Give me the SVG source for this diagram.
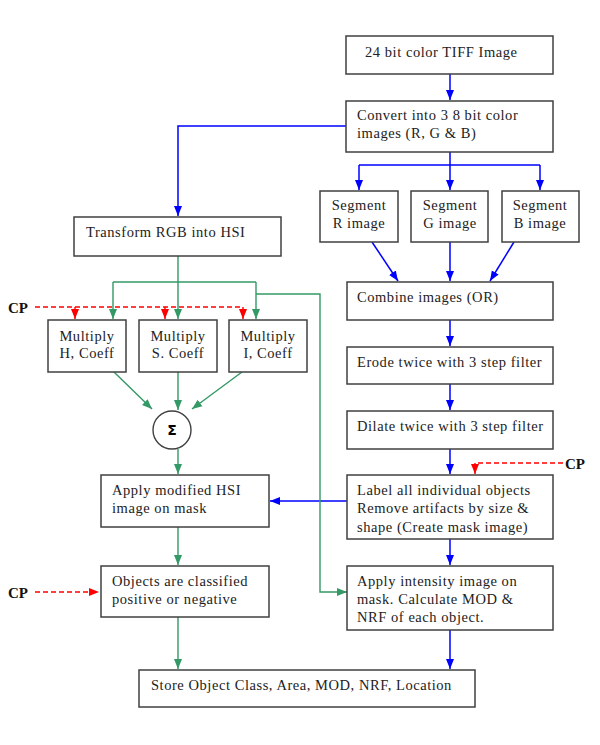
<svg xmlns="http://www.w3.org/2000/svg" width="600" height="745" viewBox="0 0 600 745">
<defs>
<style>
.box{fill:#fff;stroke:#404040;stroke-width:1.5}
.t{font-family:"Liberation Serif","Times New Roman",serif;font-size:14.5px;letter-spacing:0.55px;fill:#222}
.tc{font-family:"Liberation Serif","Times New Roman",serif;font-size:14.5px;letter-spacing:0.55px;fill:#222;text-anchor:middle}
.cp{font-family:"Liberation Serif","Times New Roman",serif;font-size:15px;font-weight:bold;fill:#111}
.b{fill:none;stroke:#0000ff;stroke-width:1.5}
.g{fill:none;stroke:#339966;stroke-width:1.4}
.r{fill:none;stroke:#ff0000;stroke-width:1.4;stroke-dasharray:5,3}
</style>
<marker id="ab" markerUnits="userSpaceOnUse" markerWidth="10" markerHeight="10" viewBox="0 0 10 10" refX="10" refY="5" orient="auto"><path d="M0,1 L10,5 L0,9 Z" fill="#0000ff"/></marker>
<marker id="ag" markerUnits="userSpaceOnUse" markerWidth="10" markerHeight="10" viewBox="0 0 10 10" refX="10" refY="5" orient="auto"><path d="M0,1 L10,5 L0,9 Z" fill="#339966"/></marker>
<marker id="ar" markerUnits="userSpaceOnUse" markerWidth="10" markerHeight="10" viewBox="0 0 10 10" refX="10" refY="5" orient="auto"><path d="M0,1 L10,5 L0,9 Z" fill="#ff0000"/></marker>
</defs>
<rect width="600" height="745" fill="#fff"/>
<g id="connectors">
<path class="b" d="M450 74 V100" marker-end="url(#ab)"/>
<path class="b" d="M450 152 V190" marker-end="url(#ab)"/>
<path class="b" d="M359 165 H540"/>
<path class="b" d="M359 165 V190" marker-end="url(#ab)"/>
<path class="b" d="M540 165 V190" marker-end="url(#ab)"/>
<path class="b" d="M346 126 H178 V216" marker-end="url(#ab)"/>
<path class="b" d="M372 242 L398 281" marker-end="url(#ab)"/>
<path class="b" d="M450 242 V281" marker-end="url(#ab)"/>
<path class="b" d="M514 242 L490 281" marker-end="url(#ab)"/>
<path class="b" d="M450 320 V346" marker-end="url(#ab)"/>
<path class="b" d="M450 384 V410" marker-end="url(#ab)"/>
<path class="b" d="M450 449 V474" marker-end="url(#ab)"/>
<path class="b" d="M347 501 H270" marker-end="url(#ab)"/>
<path class="b" d="M450 539 V565" marker-end="url(#ab)"/>
<path class="b" d="M450 630 V669" marker-end="url(#ab)"/>
<path class="g" d="M178 256 V319" marker-end="url(#ag)"/>
<path class="g" d="M113 282 H256"/>
<path class="g" d="M113 282 V319" marker-end="url(#ag)"/>
<path class="g" d="M256 282 V319" marker-end="url(#ag)"/>
<path class="g" d="M256 294 H320 V592 H347" marker-end="url(#ag)"/>
<path class="g" d="M114 372 L152 409" marker-end="url(#ag)"/>
<path class="g" d="M178 372 V410" marker-end="url(#ag)"/>
<path class="g" d="M242 372 L192 409" marker-end="url(#ag)"/>
<path class="g" d="M178 449 V474" marker-end="url(#ag)"/>
<path class="g" d="M178 527 V565" marker-end="url(#ag)"/>
<path class="g" d="M178 617 V669" marker-end="url(#ag)"/>
<path class="r" d="M35 307 H243"/>
<path class="r" d="M75 307 V319" stroke-dasharray="none" marker-end="url(#ar)"/>
<path class="r" d="M165 307 V319" stroke-dasharray="none" marker-end="url(#ar)"/>
<path class="r" d="M243 307 V319" stroke-dasharray="none" marker-end="url(#ar)"/>
<path class="r" d="M563 463 H475"/>
<path class="r" d="M475 463 V474" stroke-dasharray="none" marker-end="url(#ar)"/>
<path class="r" d="M35 592 H99" marker-end="url(#ar)"/>
</g>
<g id="tiff"><rect class="box" x="346" y="36" width="207" height="38"/><text class="t" x="365" y="57">24 bit color TIFF Image</text></g>
<g id="convert"><rect class="box" x="346" y="101" width="207" height="51"/><text class="t" x="357" y="120">Convert into 3 8 bit color</text><text class="t" x="357" y="138">images (R, G &amp; B)</text></g>
<g id="segR"><rect class="box" x="320" y="191" width="78" height="51"/><text class="tc" x="359" y="210">Segment</text><text class="tc" x="359" y="228">R image</text></g>
<g id="segG"><rect class="box" x="411" y="191" width="77" height="51"/><text class="tc" x="450" y="210">Segment</text><text class="tc" x="450" y="228">G image</text></g>
<g id="segB"><rect class="box" x="502" y="191" width="77" height="51"/><text class="tc" x="540" y="210">Segment</text><text class="tc" x="540" y="228">B image</text></g>
<g id="combine"><rect class="box" x="347" y="282" width="206" height="38"/><text class="t" x="357" y="302">Combine images (OR)</text></g>
<g id="erode"><rect class="box" x="347" y="347" width="206" height="37"/><text class="t" x="357" y="367">Erode twice with 3 step filter</text></g>
<g id="dilate"><rect class="box" x="347" y="411" width="206" height="38"/><text class="t" x="357" y="431">Dilate twice with 3 step filter</text></g>
<g id="label"><rect class="box" x="347" y="475" width="206" height="64"/><text class="t" x="357" y="495">Label all individual objects</text><text class="t" x="357" y="513">Remove artifacts by size &amp;</text><text class="t" x="357" y="532">shape (Create mask image)</text></g>
<g id="intensity"><rect class="box" x="347" y="566" width="206" height="64"/><text class="t" x="357" y="586">Apply intensity image on</text><text class="t" x="357" y="604">mask. Calculate MOD &amp;</text><text class="t" x="357" y="622">NRF of each object.</text></g>
<g id="store"><rect class="box" x="139" y="670" width="336" height="37"/><text class="t" x="151" y="690">Store Object Class, Area, MOD, NRF, Location</text></g>
<g id="transform"><rect class="box" x="74" y="217" width="207" height="39"/><text class="t" x="86" y="237">Transform RGB into HSI</text></g>
<g id="multH"><rect class="box" x="48" y="320" width="78" height="52"/><text class="tc" x="87" y="341">Multiply</text><text class="tc" x="87" y="358">H, Coeff</text></g>
<g id="multS"><rect class="box" x="139" y="320" width="78" height="52"/><text class="tc" x="178" y="341">Multiply</text><text class="tc" x="178" y="358">S. Coeff</text></g>
<g id="multI"><rect class="box" x="229" y="320" width="78" height="52"/><text class="tc" x="268" y="341">Multiply</text><text class="tc" x="268" y="358">I, Coeff</text></g>
<g id="sigma"><circle cx="172" cy="430" r="19" fill="#fff" stroke="#404040" stroke-width="1.4"/><text x="172" y="435" text-anchor="middle" style="font-family:'DejaVu Sans',sans-serif;font-size:14px;font-weight:bold;fill:#000">Σ</text></g>
<g id="applyHSI"><rect class="box" x="101" y="475" width="168" height="52"/><text class="t" x="112" y="495">Apply modified HSI</text><text class="t" x="112" y="513">image on mask</text></g>
<g id="classify"><rect class="box" x="101" y="566" width="168" height="51"/><text class="t" x="112" y="586">Objects are classified</text><text class="t" x="112" y="604">positive or negative</text></g>
<g id="cp1"><text class="cp" x="8" y="313">CP</text></g>
<g id="cp2"><text class="cp" x="565" y="469">CP</text></g>
<g id="cp3"><text class="cp" x="8" y="598">CP</text></g>
</svg>
